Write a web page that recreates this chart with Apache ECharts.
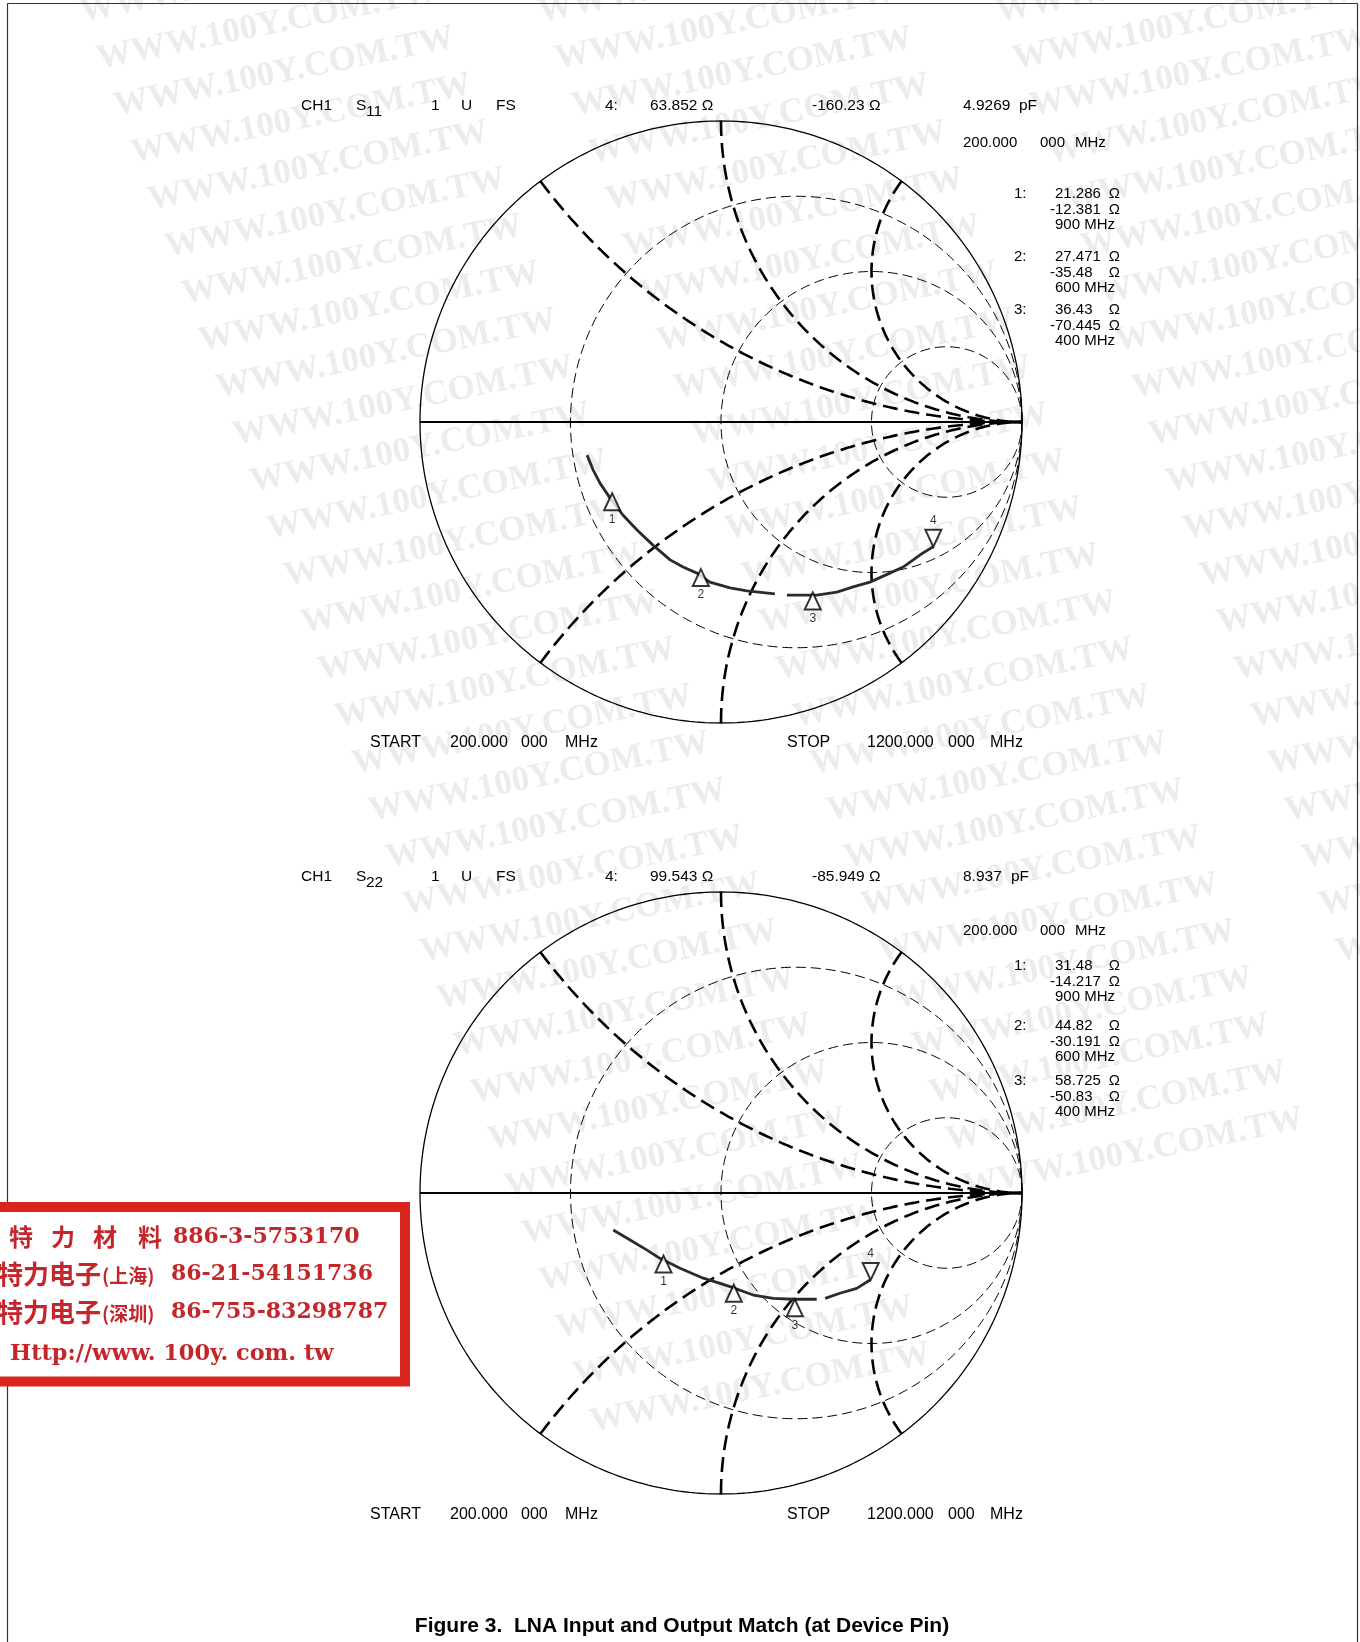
<!DOCTYPE html>
<html>
<head>
<meta charset="utf-8">
<script src="https://cdn.jsdelivr.net/npm/echarts@6/dist/echarts.min.js"></script>
<style>
  html, body { margin: 0; padding: 0; background: #fff; }
  #chart { width: 1360px; height: 1642px; }
</style>
</head>
<body>
<div id="chart"></div>
<script>
// S11 trace as reflection coefficient, 200 MHz -> 1200 MHz, null = gap in trace
const s11Re = [0.704, 0.671, 0.605, 0.561, 0.495, 0.439, 0.385, 0.319, 0.219, null, 0.179, 0.086, 0.030, -0.037, -0.080, -0.126, -0.169, -0.226, -0.279, -0.326, -0.369, -0.402, -0.425, -0.445];
const s11Im = [-0.415, -0.435, -0.482, -0.502, -0.532, -0.548, -0.565, -0.575, -0.575, null, -0.571, -0.561, -0.551, -0.532, -0.502, -0.482, -0.458, -0.409, -0.359, -0.309, -0.252, -0.203, -0.159, -0.110];

// S22 trace
const s22Re = [0.495, 0.451, 0.395, 0.346, null, 0.318, 0.240, 0.174, 0.107, 0.030, -0.003, -0.059, -0.136, -0.203, -0.247, -0.302, -0.358];
const s22Im = [-0.289, -0.317, -0.333, -0.350, null, -0.353, -0.353, -0.350, -0.339, -0.311, -0.300, -0.283, -0.250, -0.217, -0.189, -0.156, -0.123];

// marker readouts (ohm), markers 1..4
const s11MarkR = [21.286, 27.471, 36.43, 63.852];
const s11MarkX = [-12.381, -35.48, -70.445, -160.23];
const s22MarkR = [31.48, 44.82, 58.725, 99.543];
const s22MarkX = [-14.217, -30.191, -50.83, -85.949];
const markFreq = ['900 MHz', '600 MHz', '400 MHz'];
const marker4Cap = ['4.9269', '8.937'];
const paramName = ['11', '22'];

// smith chart grid
const rCircles = [1 / 3, 1, 3];
const xArcs = [0.5, 1, 2, -0.5, -1, -2];

const Z0 = 50;
const FONT = '"Liberation Sans", Arial, sans-serif';

function gamma(r, x) {
	const d = (r + 1) * (r + 1) + x * x;
	return [(r * r + x * x - 1) / d, (2 * x) / d];
}

const chart = echarts.init(document.getElementById('chart'));

const grids = [
	{ left: 420, top: 121, width: 602, height: 602 },
	{ left: 420, top: 892, width: 602, height: 602 },
];
const xAxis = grids.map((g, i) => ({ type: 'value', gridIndex: i, min: -1, max: 1, show: false }));
const yAxis = grids.map((g, i) => ({ type: 'value', gridIndex: i, min: -1, max: 1, show: false }));

const series = [];

function addGrid(i) {
	const base = { type: 'line', xAxisIndex: i, yAxisIndex: i, symbol: 'none', silent: true, clip: false, z: 2 };
	const circle = [];
	for (let k = 0; k <= 360; k++) {
		const t = (k * Math.PI) / 180;
		circle.push([Math.cos(t), Math.sin(t)]);
	}
	series.push({ ...base, data: circle, lineStyle: { color: '#000', width: 1.3 } });
	series.push({ ...base, data: [[-1, 0], [1, 0]], lineStyle: { color: '#000', width: 2.2 } });

	rCircles.forEach((r) => {
		const c = r / (1 + r);
		const rad = 1 / (1 + r);
		const pts = [];
		for (let k = 0; k <= 360; k++) {
			const t = (k * Math.PI) / 180;
			pts.push([c + rad * Math.cos(t), rad * Math.sin(t)]);
		}
		series.push({ ...base, data: pts, lineStyle: { color: '#000', width: 1, type: [10, 5] } });
	});

	xArcs.forEach((x) => {
		const pts = [];
		for (let k = 0; k < 500; k++) {
			const t = k / 500;
			pts.push(gamma(t / (1 - t), x));
		}
		pts.push([1, 0]);
		series.push({ ...base, data: pts, lineStyle: { color: '#000', width: 2.6, type: [15, 7] } });
	});
}

function addTrace(i, re, im) {
	let seg = [];
	const flush = () => {
		if (seg.length > 1) {
			series.push({
				type: 'line', xAxisIndex: i, yAxisIndex: i, symbol: 'none', silent: true, clip: false, z: 3,
				data: seg, lineStyle: { color: '#2b2b2b', width: 2.8 },
			});
		}
		seg = [];
	};
	re.forEach((v, k) => {
		if (v === null) flush();
		else seg.push([v, im[k]]);
	});
	flush();
}

function addMarkers(i, mr, mx) {
	const pts = mr.map((r, k) => gamma(r / Z0, mx[k] / Z0));
	const common = {
		type: 'scatter', xAxisIndex: i, yAxisIndex: i, silent: true, clip: false, z: 5,
		symbol: 'triangle', symbolSize: [16, 17],
		itemStyle: { color: '#fff', borderColor: '#000', borderWidth: 2 },
	};
	series.push({
		...common,
		symbolOffset: [0, 8.5],
		data: pts.slice(0, 3).map((p, k) => ({ value: p, name: String(k + 1) })),
		label: { show: true, position: 'bottom', distance: 2, formatter: '{b}', fontSize: 12, fontFamily: FONT, color: '#000' },
	});
	series.push({
		...common,
		symbolRotate: 180,
		symbolOffset: [0, -8.5],
		data: [{ value: pts[3], name: '4' }],
		label: { show: true, position: 'top', distance: 2, formatter: '{b}', fontSize: 12, fontFamily: FONT, color: '#000' },
	});
}

addGrid(0);
addGrid(1);
addTrace(0, s11Re, s11Im);
addTrace(1, s22Re, s22Im);
addMarkers(0, s11MarkR, s11MarkX);
addMarkers(1, s22MarkR, s22MarkX);

// ---------- text ----------
const graphic = [];

// watermark
for (let c = 0; c < 3; c++) {
	const lim = [1470, 1240, 1000][c];
	for (let k = -2; k < 34; k++) {
		const y = 30 + 47 * k;
		if (y > lim) break;
		graphic.push({
			type: 'text', x: 84 + c * 458 + 17 * k, y, rotation: 0.2, z: 0, silent: true,
			style: {
				text: 'WWW.100Y.COM.TW', fill: '#ececec', fontSize: 35, fontWeight: 'bold',
				fontFamily: '"Liberation Serif", "Times New Roman", serif', align: 'left', verticalAlign: 'bottom',
			},
		});
	}
}

function txt(text, x, y, opt) {
	return {
		type: 'text', x, y, z: 20, silent: true,
		style: Object.assign({
			text, fill: '#000', fontSize: 16, fontFamily: FONT, align: 'left', verticalAlign: 'middle',
		}, opt || {}),
	};
}

function fmtNum(v) {
	return String(v);
}

function addPanelText(i, hdrY, freqY, markY, startY) {
	const mr = i === 0 ? s11MarkR : s22MarkR;
	const mx = i === 0 ? s11MarkX : s22MarkX;
	const hd = { fontSize: 15.5 };
	graphic.push(txt('CH1', 301, hdrY, hd));
	graphic.push(txt('S', 356, hdrY, hd));
	graphic.push(txt(paramName[i], 366, hdrY + 6, hd));
	graphic.push(txt('1', 431, hdrY, hd));
	graphic.push(txt('U', 461, hdrY, hd));
	graphic.push(txt('FS', 496, hdrY, hd));
	graphic.push(txt('4:', 605, hdrY, hd));
	graphic.push(txt(fmtNum(mr[3]) + ' Ω', 650, hdrY, hd));
	graphic.push(txt(fmtNum(mx[3]) + ' Ω', 812, hdrY, hd));
	graphic.push(txt(marker4Cap[i], 963, hdrY, hd));
	graphic.push(txt('pF', i === 0 ? 1019 : 1011, hdrY, hd));

	graphic.push(txt('200.000', 963, freqY, { fontSize: 15 }));
	graphic.push(txt('000', 1040, freqY, { fontSize: 15 }));
	graphic.push(txt('MHz', 1075, freqY, { fontSize: 15 }));

	const mk = { fontSize: 15 };
	for (let k = 0; k < 3; k++) {
		const y0 = markY[k];
		graphic.push(txt((k + 1) + ':', 1014, y0, mk));
		graphic.push(txt(fmtNum(mr[k]), 1055, y0, mk));
		graphic.push(txt(fmtNum(mx[k]), 1050, y0 + 15.5, mk));
		graphic.push(txt('Ω', 1120, y0, { fontSize: 15, align: 'right' }));
		graphic.push(txt('Ω', 1120, y0 + 15.5, { fontSize: 15, align: 'right' }));
		graphic.push(txt(markFreq[k], 1055, y0 + 31, mk));
	}

	graphic.push(txt('START', 370, startY));
	graphic.push(txt('200.000', 450, startY));
	graphic.push(txt('000', 521, startY));
	graphic.push(txt('MHz', 565, startY));
	graphic.push(txt('STOP', 787, startY));
	graphic.push(txt('1200.000', 867, startY));
	graphic.push(txt('000', 948, startY));
	graphic.push(txt('MHz', 990, startY));
}

addPanelText(0, 106, 143, [194, 257, 310], 743);
addPanelText(1, 877, 931, [966, 1026, 1081], 1515);

graphic.push(txt('Figure 3.  LNA Input and Output Match (at Device Pin)', 682, 1626,
	{ align: 'center', fontSize: 21, fontWeight: 'bold' }));

// page frame
graphic.push({ type: 'line', z: 1, silent: true, shape: { x1: 7.5, y1: 3.5, x2: 7.5, y2: 1642 }, style: { stroke: '#333', lineWidth: 1.2 } });
graphic.push({ type: 'line', z: 1, silent: true, shape: { x1: 1357.5, y1: 3.5, x2: 1357.5, y2: 1642 }, style: { stroke: '#333', lineWidth: 1.2 } });
graphic.push({ type: 'line', z: 1, silent: true, shape: { x1: 7.5, y1: 3.5, x2: 1357.5, y2: 3.5 }, style: { stroke: '#333', lineWidth: 1.2 } });

// distributor stamp
const RED = '#c4262b';
const SERIF = '"DejaVu Serif", "Liberation Serif", serif';
const CJK = '"Noto Sans CJK SC", "Noto Sans CJK TC", sans-serif';
graphic.push({
	type: 'rect', z: 15, silent: true,
	shape: { x: -20, y: 1207, width: 425, height: 174.5 },
	style: { fill: '#fff', stroke: '#d9251b', lineWidth: 10 },
});
const stamp = (text, x, y, size, family) => txt(text, x, y, { fill: RED, fontSize: size, fontWeight: 'bold', fontFamily: family });
[9, 51, 93, 138].forEach((x, k) => graphic.push(stamp('特力材料'[k], x, 1237, 24, CJK)));
graphic.push(stamp('886-3-5753170', 173, 1237, 22, SERIF));
graphic.push(stamp('特力电子', -3, 1274, 26, CJK));
graphic.push(stamp('(上海)', 102, 1276, 19, CJK));
graphic.push(stamp('86-21-54151736', 171, 1274, 22, SERIF));
graphic.push(stamp('特力电子', -3, 1312, 26, CJK));
graphic.push(stamp('(深圳)', 102, 1314, 19, CJK));
graphic.push(stamp('86-755-83298787', 171, 1312, 22, SERIF));
graphic.push(stamp('Http://www. 100y. com. tw', 10, 1354, 22.4, SERIF));

chart.setOption({
	backgroundColor: '#fff',
	animation: false,
	grid: grids,
	xAxis,
	yAxis,
	series,
	graphic,
});
</script>
</body>
</html>
